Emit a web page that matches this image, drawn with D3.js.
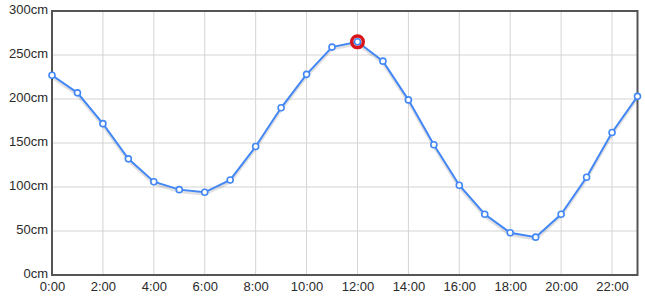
<!DOCTYPE html>
<html lang="en">
<head>
  <meta charset="UTF-8">
  <title>Tide height</title>
  <script src="https://cdn.jsdelivr.net/npm/d3@7/dist/d3.min.js"></script>
  <style>
    body {
      margin: 0;
      background: #fff;
      font-family: 'Open Sans', 'Noto Sans', sans-serif;
    }
    svg {
      display: block;
    }
    .tick text {
      font-size: 13px;
      fill: #2a2a2a;
    }
  </style>
</head>
<body>
  <svg id="chart"></svg>

  <script>
    const hours = d3.range(0, 24);
    const heights = [227, 207, 172, 132, 106, 97, 94, 108, 146, 190, 228, 259, 265, 243, 199, 148, 102, 69, 48, 43, 69, 111, 162, 203];
    const yTicks = [0, 50, 100, 150, 200, 250, 300];
    const xTicks = [0, 2, 4, 6, 8, 10, 12, 14, 16, 18, 20, 22];

    const width = 645;
    const height = 305;
    const margin = { top: 11, right: 7.5, bottom: 30, left: 52 };

    const svg = d3.select("#chart")
      .attr("width", width)
      .attr("height", height);

    const x = d3.scaleLinear()
      .domain([0, 23])
      .range([margin.left, width - margin.right]);

    const y = d3.scaleLinear()
      .domain([0, 300])
      .range([height - margin.bottom, margin.top]);

    // grid
    svg.append("g")
      .selectAll("line.v")
      .data(xTicks)
      .join("line")
      .attr("x1", d => x(d))
      .attr("x2", d => x(d))
      .attr("y1", y(300))
      .attr("y2", y(0))
      .attr("stroke", "#d4d4d4")
      .attr("stroke-width", 1);

    svg.append("g")
      .selectAll("line.h")
      .data(yTicks)
      .join("line")
      .attr("x1", x(0))
      .attr("x2", x(23))
      .attr("y1", d => y(d))
      .attr("y2", d => y(d))
      .attr("stroke", "#d4d4d4")
      .attr("stroke-width", 1);

    // axes
    const yAxis = svg.append("g")
      .attr("transform", `translate(${margin.left},0)`)
      .call(d3.axisLeft(y).tickValues(yTicks).tickFormat(d => d + "cm").tickSize(0).tickPadding(4));
    yAxis.select(".domain").remove();
    yAxis.selectAll(".tick text").attr("dy", "0.2em");

    const xAxis = svg.append("g")
      .attr("transform", `translate(0,${height - margin.bottom})`)
      .call(d3.axisBottom(x).tickValues(xTicks).tickFormat(d => d + ":00").tickSize(0).tickPadding(7));
    xAxis.select(".domain").remove();

    // frame
    svg.append("rect")
      .attr("x", x(0))
      .attr("y", y(300))
      .attr("width", x(23) - x(0))
      .attr("height", y(0) - y(300))
      .attr("fill", "none")
      .attr("stroke", "#555")
      .attr("stroke-width", 2);

    const data = hours.map((h, i) => ({ h, v: heights[i] }));

    const line = d3.line()
      .x(d => x(d.h))
      .y(d => y(d.v));

    // soft shadow under the line
    svg.append("path")
      .datum(data)
      .attr("d", line)
      .attr("fill", "none")
      .attr("stroke", "rgba(0,0,0,0.12)")
      .attr("stroke-width", 3)
      .attr("transform", "translate(0,2)");

    svg.append("path")
      .datum(data)
      .attr("d", line)
      .attr("fill", "none")
      .attr("stroke", "#4287f5")
      .attr("stroke-width", 2);

    const maxPoint = data.reduce((a, b) => (b.v > a.v ? b : a));

    svg.append("circle")
      .attr("cx", x(maxPoint.h))
      .attr("cy", y(maxPoint.v))
      .attr("r", 5.8)
      .attr("fill", "none")
      .attr("stroke", "#d9151b")
      .attr("stroke-width", 3.5);

    svg.append("g")
      .selectAll("circle")
      .data(data)
      .join("circle")
      .attr("cx", d => x(d.h))
      .attr("cy", d => y(d.v))
      .attr("r", 3)
      .attr("fill", "#fff")
      .attr("stroke", "#4287f5")
      .attr("stroke-width", 1.6);
  </script>
</body>
</html>
